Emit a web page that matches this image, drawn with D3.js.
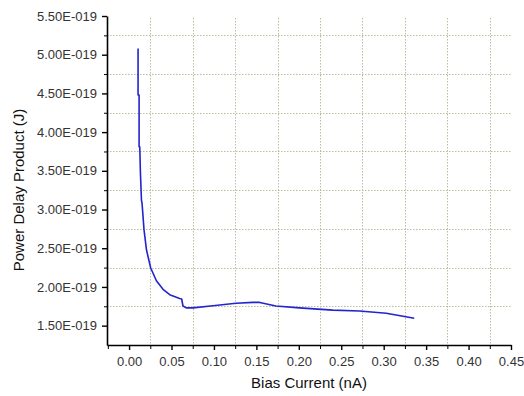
<!DOCTYPE html>
<html>
<head>
<meta charset="utf-8">
<script src="https://cdn.jsdelivr.net/npm/d3@7"></script>
<style>
  body { margin: 0; background: #fff; }
  svg text { font-family: "Liberation Sans", Arial, sans-serif; }
  .tick text { fill: #333; font-size: 13px; }
  .axis path, .axis line { stroke: #000; }
  .grid line { stroke: #bdbda0; stroke-dasharray: 1.5,1.5; }
</style>
</head>
<body>
<div id="chart"></div>
<script>
// bias current (nA) and power delay product (J)
const biasCurrent = [0.0106, 0.0106, 0.0118, 0.0118, 0.0126, 0.0134, 0.0146, 0.0153, 0.0176, 0.0205,
  0.0224, 0.0255, 0.0322, 0.0400, 0.0479, 0.0596, 0.0620, 0.0635, 0.0675, 0.0753,
  0.0988, 0.126, 0.146, 0.154, 0.173, 0.2008, 0.240, 0.2714, 0.303, 0.336];
const powerDelay = [5.08e-19, 4.48e-19, 4.48e-19, 3.81e-19, 3.81e-19, 3.47e-19, 3.12e-19, 3.08e-19, 2.74e-19, 2.48e-19,
  2.39e-19, 2.245e-19, 2.08e-19, 1.97e-19, 1.90e-19, 1.85e-19, 1.844e-19, 1.754e-19, 1.73e-19, 1.73e-19,
  1.758e-19, 1.79e-19, 1.80e-19, 1.80e-19, 1.754e-19, 1.73e-19, 1.70e-19, 1.69e-19, 1.66e-19, 1.595e-19];

const xMajorTicks = [0, 0.05, 0.10, 0.15, 0.20, 0.25, 0.30, 0.35, 0.40, 0.45];
const xMinorTicks = [-0.025, 0.025, 0.075, 0.125, 0.175, 0.225, 0.275, 0.325, 0.375, 0.425];
const yMajorTicks = [1.5e-19, 2.0e-19, 2.5e-19, 3.0e-19, 3.5e-19, 4.0e-19, 4.5e-19, 5.0e-19, 5.5e-19];
const yMinorTicks = [1.75e-19, 2.25e-19, 2.75e-19, 3.25e-19, 3.75e-19, 4.25e-19, 4.75e-19, 5.25e-19];

const chartW = 524, chartH = 396;
const margin = { left: 107, right: 511, top: 16, bottom: 345 };

const svg = d3.select('#chart').append('svg')
  .attr('width', chartW)
  .attr('height', chartH);

const x = d3.scaleLinear().domain([-0.026, 0.45]).range([margin.left, margin.right]);
const y = d3.scaleLinear().domain([1.25e-19, 5.5e-19]).range([margin.bottom, margin.top]);

// grid at the minor ticks
svg.append('g').attr('class', 'grid')
  .selectAll('line').data(xMinorTicks.filter(d => d > 0)).enter().append('line')
  .attr('x1', d => Math.round(x(d)) + 0.5).attr('x2', d => Math.round(x(d)) + 0.5)
  .attr('y1', margin.top + 2).attr('y2', margin.bottom);
svg.append('g').attr('class', 'grid')
  .selectAll('line').data(yMinorTicks).enter().append('line')
  .attr('x1', margin.left).attr('x2', margin.right)
  .attr('y1', d => Math.round(y(d)) + 0.5).attr('y2', d => Math.round(y(d)) + 0.5);

// curve
const line = d3.line()
  .x((d, i) => x(biasCurrent[i]))
  .y(d => y(d));
svg.append('path')
  .datum(powerDelay)
  .attr('d', line)
  .attr('fill', 'none')
  .attr('stroke', '#2424cc')
  .attr('stroke-width', 1.6)
  .attr('stroke-linejoin', 'round');

// axes
const fmtY = d => (d / 1e-19).toFixed(2) + 'E-019';

svg.append('g').attr('class', 'axis')
  .attr('transform', 'translate(0,' + margin.bottom + ')')
  .call(d3.axisBottom(x).tickValues(xMinorTicks).tickSize(4).tickFormat(''))
  .call(g => g.select('.domain').remove());
svg.append('g').attr('class', 'axis')
  .attr('transform', 'translate(0,' + margin.bottom + ')')
  .call(d3.axisBottom(x).tickValues(xMajorTicks).tickSize(5).tickSizeOuter(0).tickPadding(7)
    .tickFormat(d3.format('.2f')))
  .call(g => g.select('.domain').attr('stroke-width', 1.6))
  .call(g => g.selectAll('.tick line').attr('stroke-width', 1.4));

svg.append('g').attr('class', 'axis')
  .attr('transform', 'translate(' + margin.left + ',0)')
  .call(d3.axisLeft(y).tickValues(yMinorTicks).tickSize(3).tickFormat(''))
  .call(g => g.select('.domain').remove());
svg.append('g').attr('class', 'axis')
  .attr('transform', 'translate(' + margin.left + ',0)')
  .call(d3.axisLeft(y).tickValues(yMajorTicks).tickSize(5).tickSizeOuter(0).tickPadding(5)
    .tickFormat(fmtY))
  .call(g => g.select('.domain').attr('stroke-width', 1.6))
  .call(g => g.selectAll('.tick line').attr('stroke-width', 1.4));

// titles
svg.append('text')
  .attr('x', (margin.left + margin.right) / 2)
  .attr('y', 388)
  .attr('text-anchor', 'middle')
  .attr('font-size', 15)
  .attr('fill', '#111')
  .text('Bias Current (nA)');

svg.append('text')
  .attr('transform', 'translate(24,190) rotate(-90)')
  .attr('text-anchor', 'middle')
  .attr('font-size', 15)
  .attr('fill', '#111')
  .text('Power Delay Product (J)');
</script>
</body>
</html>
